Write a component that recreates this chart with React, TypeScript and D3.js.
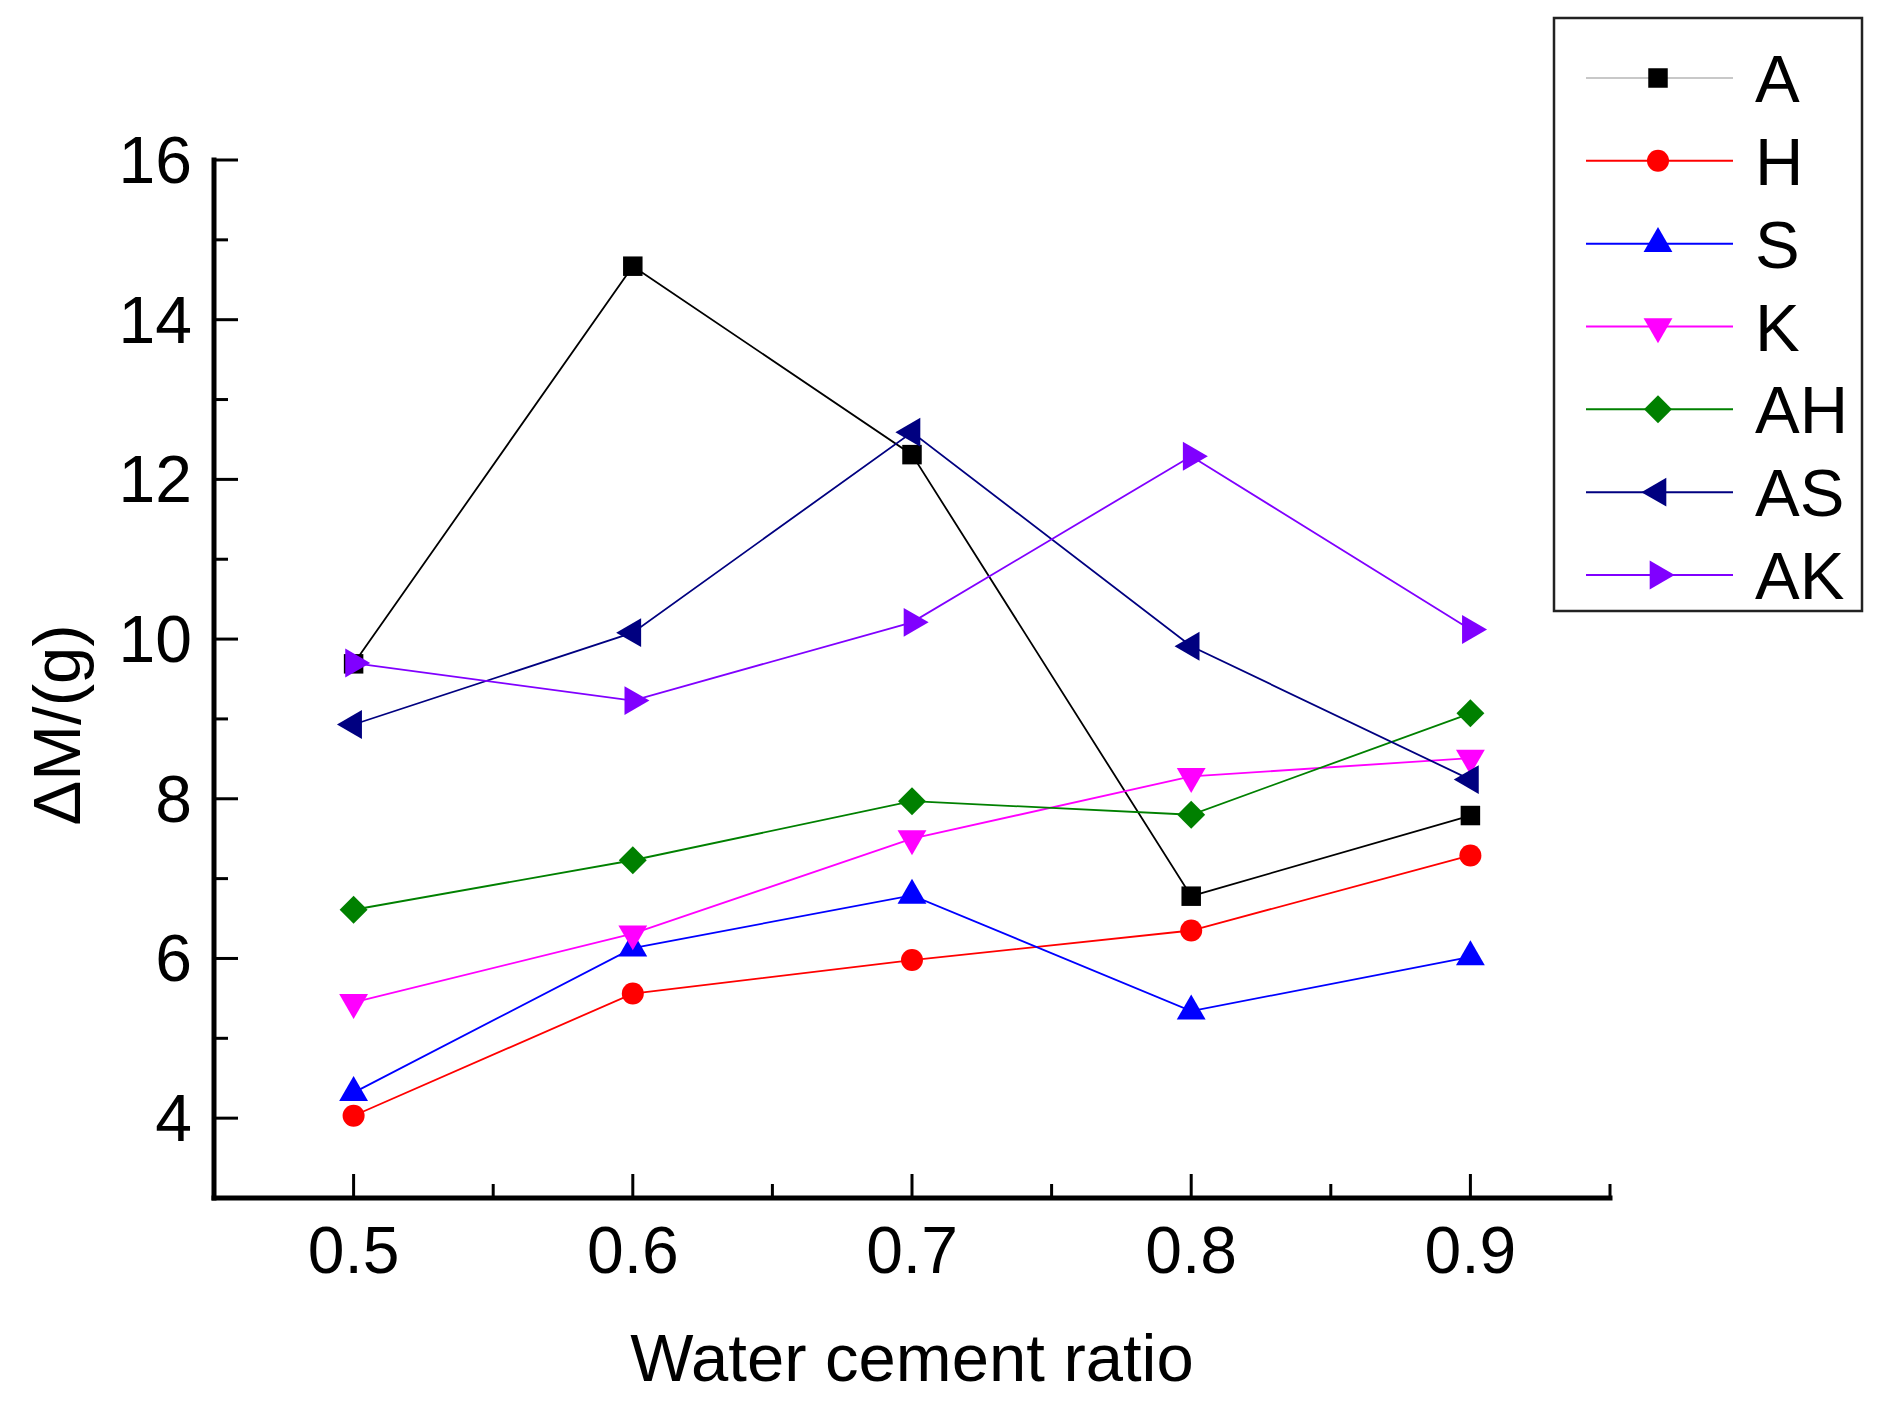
import { useEffect, useRef } from 'react';
import * as d3 from 'd3';

// water cement ratio
const ratios = [0.5, 0.6, 0.7, 0.8, 0.9];

// ΔM (g) per series
const seriesA = [9.69, 14.67, 12.31, 6.78, 7.79];
const seriesH = [4.03, 5.56, 5.98, 6.35, 7.29];
const seriesS = [4.32, 6.13, 6.79, 5.34, 6.02];
const seriesK = [5.45, 6.31, 7.5, 8.28, 8.51];
const seriesAH = [6.61, 7.23, 7.97, 7.8, 9.07];
const seriesAS = [8.93, 10.08, 12.59, 9.91, 8.24];
const seriesAK = [9.7, 9.23, 10.21, 12.29, 10.12];

const seriesNames = ['A', 'H', 'S', 'K', 'AH', 'AS', 'AK'];
const yTicks = [4, 6, 8, 10, 12, 14, 16];
const xTicks = [0.5, 0.6, 0.7, 0.8, 0.9];

const W = 1887;
const H = 1401;
const FONT = '"Liberation Sans", Arial, sans-serif';

const App: React.FC = () => {
  const svgRef = useRef<SVGSVGElement | null>(null);

  useEffect(() => {
    const svg = d3.select(svgRef.current);
    svg.selectAll('*').remove();

    const margin = { left: 214, right: W - 1610, top: 160, bottom: H - 1198 };

    const x = d3.scaleLinear()
      .domain([0.45, 0.95])
      .range([margin.left, W - margin.right]);
    const y = d3.scaleLinear()
      .domain([3, 16])
      .range([H - margin.bottom, margin.top]);

    svg.append('rect')
      .attr('width', W)
      .attr('height', H)
      .attr('fill', '#fff');

    // diamond = square turned 45°
    const styles = [
      { color: '#000000', shape: d3.symbolSquare, rot: 0, size: 380, legendLine: '#c8c8c8' },
      { color: '#ff0000', shape: d3.symbolCircle, rot: 0, size: 380, legendLine: '#ff0000' },
      { color: '#0000ff', shape: d3.symbolTriangle, rot: 0, size: 360, legendLine: '#0000ff' },
      { color: '#ff00ff', shape: d3.symbolTriangle, rot: 180, size: 360, legendLine: '#ff00ff' },
      { color: '#008000', shape: d3.symbolSquare, rot: 45, size: 390, legendLine: '#008000' },
      { color: '#000080', shape: d3.symbolTriangle, rot: -90, size: 360, legendLine: '#000080' },
      { color: '#8000ff', shape: d3.symbolTriangle, rot: 90, size: 360, legendLine: '#8000ff' },
    ];
    const allSeries = [seriesA, seriesH, seriesS, seriesK, seriesAH, seriesAS, seriesAK];

    // Axes
    const axisG = svg.append('g');
    axisG.append('line')
      .attr('x1', x(0.45)).attr('x2', x(0.95))
      .attr('y1', y(3)).attr('y2', y(3))
      .attr('stroke', '#000').attr('stroke-width', 5).attr('stroke-linecap', 'square');
    axisG.append('line')
      .attr('x1', x(0.45)).attr('x2', x(0.45))
      .attr('y1', y(3)).attr('y2', y(16))
      .attr('stroke', '#000').attr('stroke-width', 5).attr('stroke-linecap', 'square');

    // y ticks (inward)
    yTicks.forEach((t) => {
      axisG.append('line')
        .attr('x1', x(0.45)).attr('x2', x(0.45) + 24)
        .attr('y1', y(t)).attr('y2', y(t))
        .attr('stroke', '#000').attr('stroke-width', 3);
      axisG.append('text')
        .attr('x', 192).attr('y', y(t) + 23)
        .attr('text-anchor', 'end')
        .attr('font-family', FONT).attr('font-size', 66)
        .text(t);
    });
    d3.range(5, 16, 2).forEach((t) => {
      axisG.append('line')
        .attr('x1', x(0.45)).attr('x2', x(0.45) + 14)
        .attr('y1', y(t)).attr('y2', y(t))
        .attr('stroke', '#000').attr('stroke-width', 3);
    });

    // x ticks (inward)
    xTicks.forEach((t) => {
      axisG.append('line')
        .attr('x1', x(t)).attr('x2', x(t))
        .attr('y1', y(3)).attr('y2', y(3) - 24)
        .attr('stroke', '#000').attr('stroke-width', 3);
      axisG.append('text')
        .attr('x', x(t)).attr('y', 1273)
        .attr('text-anchor', 'middle')
        .attr('font-family', FONT).attr('font-size', 66)
        .text(t.toFixed(1));
    });
    [0.55, 0.65, 0.75, 0.85, 0.95].forEach((t) => {
      axisG.append('line')
        .attr('x1', x(t)).attr('x2', x(t))
        .attr('y1', y(3)).attr('y2', y(3) - 14)
        .attr('stroke', '#000').attr('stroke-width', 3);
    });

    // Axis titles
    svg.append('text')
      .attr('x', (x(0.45) + x(0.95)) / 2).attr('y', 1381)
      .attr('text-anchor', 'middle')
      .attr('font-family', FONT).attr('font-size', 67)
      .text('Water cement ratio');
    svg.append('text')
      .attr('transform', 'translate(80,725) rotate(-90)')
      .attr('text-anchor', 'middle')
      .attr('font-family', FONT).attr('font-size', 67)
      .text('ΔM/(g)');

    // Series lines + markers
    const line = d3.line<number>()
      .x((_, i) => x(ratios[i]))
      .y((d) => y(d));

    allSeries.forEach((vals, si) => {
      const st = styles[si];
      const g = svg.append('g');
      g.append('path')
        .attr('d', line(vals) ?? '')
        .attr('fill', 'none')
        .attr('stroke', st.color)
        .attr('stroke-width', 1.8);
      g.selectAll('path.m')
        .data(vals)
        .enter()
        .append('path')
        .attr('class', 'm')
        .attr('d', d3.symbol().type(st.shape).size(st.size)())
        .attr('transform', (d, i) => `translate(${x(ratios[i])},${y(d)}) rotate(${st.rot})`)
        .attr('fill', st.color);
    });

    // Legend
    const lg = svg.append('g');
    lg.append('rect')
      .attr('x', 1554).attr('y', 18)
      .attr('width', 308).attr('height', 593)
      .attr('fill', '#fff')
      .attr('stroke', '#222').attr('stroke-width', 2.5);
    const rowY = d3.scaleLinear().domain([0, 6]).range([78, 575]);
    seriesNames.forEach((name, i) => {
      const st = styles[i];
      const cy = rowY(i);
      lg.append('line')
        .attr('x1', 1586).attr('x2', 1733)
        .attr('y1', cy).attr('y2', cy)
        .attr('stroke', st.legendLine).attr('stroke-width', 2);
      lg.append('path')
        .attr('d', d3.symbol().type(st.shape).size(st.size)())
        .attr('transform', `translate(1658,${cy}) rotate(${st.rot})`)
        .attr('fill', st.color);
      lg.append('text')
        .attr('x', 1755).attr('y', cy + 24)
        .attr('font-family', FONT).attr('font-size', 67)
        .text(name);
    });
  }, []);

  return (
    <svg
      ref={svgRef}
      width={W}
      height={H}
      style={{ position: 'absolute', left: 0, top: 0, display: 'block' }}
    />
  );
};

export default App;
